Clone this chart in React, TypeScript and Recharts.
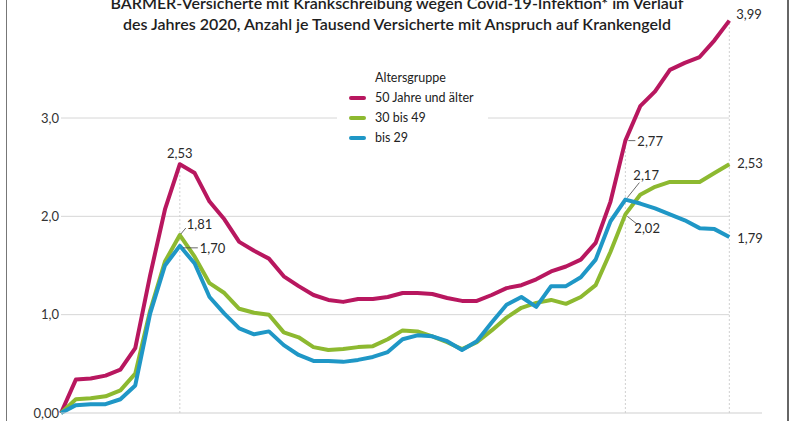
import React from 'react';
import {
  LineChart,
  Line,
  XAxis,
  YAxis,
  ReferenceLine,
  Legend,
  LabelList,
} from 'recharts';

// weekly values 2020, per 1000 insured with sick-pay entitlement
const weeks = Array.from({ length: 46 }, (_, i) => i);

const older = [
  0.0, 0.34, 0.35, 0.38, 0.44, 0.66, 1.4, 2.07, 2.53, 2.44, 2.15, 1.97, 1.74, 1.65, 1.57, 1.39,
  1.29, 1.2, 1.15, 1.13, 1.16, 1.16, 1.18, 1.22, 1.22, 1.21, 1.17, 1.14, 1.14, 1.2, 1.27, 1.3,
  1.36, 1.44, 1.49, 1.56, 1.73, 2.15, 2.77, 3.12, 3.27, 3.49, 3.56, 3.62, 3.79, 3.99,
];

const middle = [
  0.0, 0.14, 0.15, 0.17, 0.23, 0.4, 1.04, 1.54, 1.81, 1.59, 1.32, 1.22, 1.06, 1.02, 1.0, 0.82,
  0.77, 0.67, 0.64, 0.65, 0.67, 0.68, 0.75, 0.84, 0.83, 0.78, 0.72, 0.65, 0.72, 0.84, 0.97, 1.07,
  1.12, 1.15, 1.11, 1.18, 1.3, 1.64, 2.02, 2.22, 2.3, 2.35, 2.35, 2.35, 2.44, 2.53,
];

const young = [
  0.0, 0.08, 0.09, 0.09, 0.14, 0.28, 1.01, 1.5, 1.7, 1.52, 1.18, 1.01, 0.86, 0.8, 0.83, 0.69,
  0.59, 0.53, 0.53, 0.52, 0.54, 0.57, 0.62, 0.75, 0.79, 0.78, 0.73, 0.64, 0.73, 0.92, 1.1, 1.18,
  1.08, 1.29, 1.29, 1.38, 1.56, 1.95, 2.17, 2.13, 2.08, 2.02, 1.96, 1.88, 1.87, 1.79,
];

const xTicks = [0, 4, 8, 14, 19, 24, 29, 34, 38, 45];
const yTicks = [0, 1, 2, 3];
const markedWeeks = [8, 38, 45];

const series = [
  { key: 'older', name: '50 Jahre und älter', color: '#B8175F' },
  { key: 'middle', name: '30 bis 49', color: '#8DB930' },
  { key: 'young', name: 'bis 29', color: '#1F97C6' },
];

// label placement for the annotated points (offsets from the point)
const notes = [
  { key: 'older', i: 8, dx: 0, dy: -11, anchor: 'middle', leader: null },
  { key: 'middle', i: 8, dx: 7, dy: -11, anchor: 'start', leader: [1, -1, 6, -7] },
  { key: 'young', i: 8, dx: 20, dy: 2, anchor: 'start', leader: [3, 2, 18, 2] },
  { key: 'older', i: 45, dx: 7, dy: -7, anchor: 'start', leader: null },
  { key: 'older', i: 38, dx: 12, dy: 0, anchor: 'start', leader: [3, 0, 10, 0] },
  { key: 'young', i: 38, dx: 8, dy: -25, anchor: 'start', leader: [2, -2, 14, -17] },
  { key: 'middle', i: 38, dx: 9, dy: 14, anchor: 'start', leader: [2, 2, 12, 10] },
  { key: 'middle', i: 45, dx: 8, dy: -1, anchor: 'start', leader: null },
  { key: 'young', i: 45, dx: 8, dy: 1, anchor: 'start', leader: null },
];

const data = weeks.map((i) => ({
  i,
  older: older[i],
  middle: middle[i],
  young: young[i],
}));

const fmt = (v: number, d: number) => v.toFixed(d).replace('.', ',');
const FONT = 'Lato, "Noto Sans", sans-serif';

const noteLabel = (key: string) => (props: any) => {
  const { x, y, index, value } = props;
  const n = notes.find((a) => a.key === key && a.i === index);
  if (!n) return null;
  return (
    <g>
      {n.leader && (
        <line
          x1={x + n.leader[0]}
          y1={y + n.leader[1]}
          x2={x + n.leader[2]}
          y2={y + n.leader[3]}
          stroke="#444"
          strokeWidth={0.8}
        />
      )}
      <text
        x={x + n.dx}
        y={y + n.dy}
        textAnchor={n.anchor}
        dominantBaseline="central"
        fontFamily={FONT}
        fontSize={13}
        fill="#2a2a2a"
      >
        {fmt(value, 2)}
      </text>
    </g>
  );
};

const LegendBox = () => (
  <div style={{ background: '#fff', padding: '4px 14px 4px 12px', fontFamily: FONT, fontSize: 12.5, color: '#222' }}>
    <div style={{ paddingLeft: 26, lineHeight: '20px' }}>Altersgruppe</div>
    {series.map((s) => (
      <div key={s.key} style={{ display: 'flex', alignItems: 'center', lineHeight: '20px' }}>
        <span style={{ width: 17, height: 4, borderRadius: 2, background: s.color, marginRight: 9 }} />
        {s.name}
      </div>
    ))}
  </div>
);

export default function App() {
  return (
    <div
      style={{
        position: 'absolute',
        left: 0,
        top: 0,
        width: 794,
        height: 421,
        overflow: 'hidden',
        background: '#fff',
      }}
    >
      <div style={{ position: 'absolute', left: 6, top: 0, width: 780, height: 421, borderLeft: '1.5px solid #777', borderRight: '2px solid #666' }} />
      <div
        style={{
          position: 'absolute',
          left: 0,
          width: 794,
          top: -8,
          textAlign: 'center',
          fontFamily: FONT,
          fontWeight: 600,
          fontSize: 16,
          lineHeight: '21px',
          color: '#1e1e1e',
        }}
      >
        BARMER-Versicherte mit Krankschreibung wegen Covid-19-Infektion* im Verlauf
        <br />
        des Jahres 2020, Anzahl je Tausend Versicherte mit Anspruch auf Krankengeld
      </div>
      <LineChart width={794} height={421} data={data} margin={{ top: 0, right: 32, bottom: 0, left: 0 }}>
        <XAxis
          dataKey="i"
          type="number"
          domain={[0, 47.2]}
          ticks={xTicks}
          tick={false}
          tickSize={6}
          height={8}
          axisLine={{ stroke: '#cfcfcf' }}
          tickLine={{ stroke: '#cfcfcf' }}
        />
        <YAxis
          type="number"
          domain={[0, 4.2]}
          ticks={yTicks}
          width={61}
          axisLine={false}
          tickLine={false}
          tickSize={0}
          tickMargin={2}
          tickFormatter={(v: number) => (v === 0 ? '0,00' : fmt(v, 1))}
          tick={{ fontFamily: FONT, fontSize: 13, fill: '#333' }}
        />
        {yTicks.slice(1).map((v) => (
          <ReferenceLine
            key={`h${v}`}
            segment={[
              { x: 0, y: v },
              { x: 45, y: v },
            ]}
            stroke="#d6d6d6"
            strokeWidth={1}
          />
        ))}
        {markedWeeks.map((w) => (
          <ReferenceLine
            key={`v${w}`}
            segment={[
              { x: w, y: 0 },
              { x: w, y: older[w] },
            ]}
            stroke="#d0d0d0"
            strokeDasharray="2 2"
            strokeWidth={1}
          />
        ))}
        <Legend
          verticalAlign="middle"
          align="center"
          layout="vertical"
          content={() => <LegendBox />}
          wrapperStyle={{ left: 337, top: 64, width: 'auto', height: 'auto' }}
        />
        {series.map((s) => (
          <Line
            key={s.key}
            dataKey={s.key}
            name={s.name}
            stroke={s.color}
            strokeWidth={4}
            dot={false}
            activeDot={false}
            strokeLinejoin="round"
            isAnimationActive={false}
          >
            <LabelList dataKey={s.key} content={noteLabel(s.key)} />
          </Line>
        ))}
      </LineChart>
    </div>
  );
}
